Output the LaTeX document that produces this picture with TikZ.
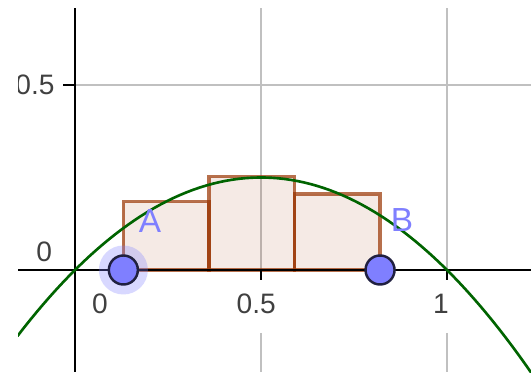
\documentclass[tikz,border=0pt]{standalone}
\usepackage{fontspec}
\setmainfont{Liberation Sans}
\usepackage{tikz}
\usetikzlibrary{positioning,calc}

\definecolor{gridgray}{HTML}{C0C0C0}
\definecolor{curvegreen}{HTML}{006400}
\definecolor{rectbrown}{HTML}{993300}
\definecolor{ptblue}{HTML}{7F7FFF}
\definecolor{ptedge}{HTML}{202040}
\definecolor{ticklabel}{HTML}{404040}

\begin{document}
\begin{tikzpicture}[
    x=7.44cm, y=7.4cm,
    gridline/.style={draw=gridgray, line width=1.1pt},
    axis/.style={draw=black, line width=1.6pt},
    curve/.style={draw=curvegreen, line width=1.5pt},
    rect/.style={draw=rectbrown, draw opacity=0.7, fill=rectbrown, fill opacity=0.1, line width=1.9pt},
    pt/.style={circle, draw=ptedge, line width=1.4pt, fill=ptblue, minimum size=0.58cm, inner sep=0pt},
    halo/.style={circle, fill=ptblue, fill opacity=0.3, minimum size=0.98cm, inner sep=0pt},
    ticklbl/.style={text=ticklabel, font=\fontsize{16}{18}\selectfont, inner sep=0pt},
    ptlbl/.style={text=ptblue, font=\fontsize{19}{22}\selectfont, inner sep=0pt},
]
\useasboundingbox (-0.2016,-0.2757) rectangle (1.2258,0.7297);
\clip (-0.153,-0.2757) rectangle (1.2258,0.708);

% grid
\draw[gridline] (0,0.5) -- (1.2258,0.5);
\foreach \gx in {0.5,1} {
  \draw[gridline] (\gx,0.708) -- (\gx,0);
  \draw[gridline] (\gx,-0.17) -- (\gx,-0.2757);
}

% midpoint rectangles
\foreach \ra/\rh in {0.13/0.185, 0.36/0.252, 0.59/0.205}
  \draw[rect] (\ra,0) rectangle ++(0.23,\rh);

% axes
\draw[axis] (-0.153,0) -- (1.2258,0);
\draw[axis] (0,0.708) -- (0,-0.2757);
\draw[line width=1.2pt] (0.5,0) -- (0.5,-0.027);
\draw[line width=1.2pt] (1,0) -- (1,-0.027);
\draw[line width=1.2pt] (0,0.5) -- (-0.032,0.5);

% tick labels
\node[ticklbl] (x0) at (0.067,-0.092) {0};
\node[ticklbl] (x05) at (0.487,-0.092) {0.5};
\node[ticklbl] (x1) at (0.984,-0.092) {1};
\node[ticklbl] (y0) at (-0.083,0.049) {0};
\node[ticklbl, anchor=east] (y05) at (-0.054,0.5) {0.5};

% parabola
\draw[curve] plot[domain=-0.155:1.23, samples=80] (\x,{\x*(1-\x)});

% points
\node[halo] (haloA) at (0.13,0) {};
\node[pt] (A) at (0.13,0) {};
\node[pt] (B) at (0.82,0) {};
\node[ptlbl] (labA) at (0.2016,0.132) {A};
\node[ptlbl] (labB) at (0.879,0.135) {B};
\end{tikzpicture}
\end{document}
